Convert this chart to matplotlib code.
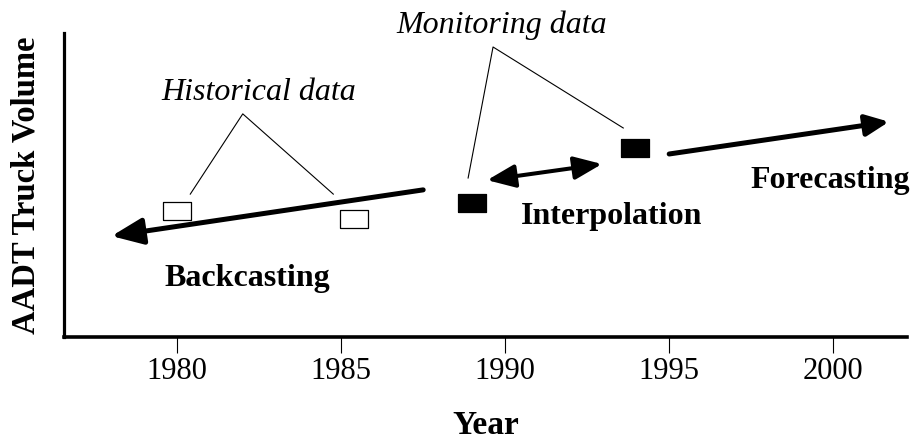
import matplotlib
matplotlib.use("Agg")
import matplotlib.pyplot as plt

plt.rcParams['font.family'] = ['Liberation Serif', 'DejaVu Serif']

# values (x in years, y in arbitrary volume units 0-100)
year_ticks = [1980, 1985, 1990, 1995, 2000]
hist_years = [1980.0, 1985.4]
hist_volume = [41.3, 38.7]
mon_years = [1989.0, 1993.95]
mon_volume = [44.1, 62.3]
backcast_years = [1987.5, 1978.0]
backcast_volume = [48.4, 33.2]
interp_years = [1989.45, 1992.95]
interp_volume = [51.6, 56.9]
forecast_years = [1995.0, 2001.7]
forecast_volume = [60.2, 70.8]

fig = plt.figure(figsize=(9.14, 4.4), dpi=100)
ax = fig.add_axes([64 / 914, 1 - 337 / 440, (907 - 64) / 914, (337 - 33) / 440])
ax.set_xlim(1976.55, 2002.25)
ax.set_ylim(0, 100)

for s in ['top', 'right']:
    ax.spines[s].set_visible(False)
ax.spines['left'].set_linewidth(2.3)
ax.spines['bottom'].set_linewidth(2.6)
ax.set_yticks([])
ax.set_xticks(year_ticks)
ax.tick_params(axis='x', direction='out', length=11.5, width=0.8, pad=3, labelsize=22)

# rectangular marker
rect = [(-1, -0.68), (1, -0.68), (1, 0.68), (-1, 0.68), (-1, -0.68)]
ax.plot(hist_years, hist_volume, linestyle='none', marker=rect, markersize=20,
        markerfacecolor='white', markeredgecolor='black', markeredgewidth=0.9)
ax.plot(mon_years, mon_volume, linestyle='none', marker=rect, markersize=20,
        markerfacecolor='black', markeredgecolor='black', markeredgewidth=0.9)

def arrow(xs, ys, style, lw):
    ax.annotate('', xy=(xs[1], ys[1]), xytext=(xs[0], ys[0]),
                arrowprops=dict(arrowstyle=style, lw=lw, color='black',
                                mutation_scale=20, shrinkA=0, shrinkB=0))

arrow(backcast_years, backcast_volume, '-|>,head_length=0.95,head_width=0.4', 3.6)
arrow(interp_years, interp_volume, '<|-|>,head_length=0.85,head_width=0.35', 2.9)
arrow(forecast_years, forecast_volume, '-|>,head_length=0.7,head_width=0.32', 3.6)

# leader lines
ax.plot([1980.4, 1982.0, 1984.76], [47.0, 73.4, 47.0], color='black', lw=0.8)
ax.plot([1988.87, 1989.63, 1993.6], [52.3, 95.4, 68.75], color='black', lw=0.8, clip_on=False)

ax.text(1982.5, 80.5, 'Historical data', style='italic', fontsize=23, ha='center', va='center')
ax.text(1989.9, 102.7, 'Monitoring data', style='italic', fontsize=23, ha='center', va='center',
        clip_on=False)
ax.text(1982.15, 19.4, 'Backcasting', fontweight='bold', fontsize=23, ha='center', va='center')
ax.text(1993.25, 39.5, 'Interpolation', fontweight='bold', fontsize=23, ha='center', va='center')
ax.text(1999.9, 51.6, 'Forecasting', fontweight='bold', fontsize=23, ha='center', va='center',
        clip_on=False)

ax.set_xlabel('Year', fontweight='bold', fontsize=24, labelpad=17)
ax.set_ylabel('AADT Truck Volume', fontweight='bold', fontsize=23.5, labelpad=16)

fig.savefig('out.png', dpi=100)
